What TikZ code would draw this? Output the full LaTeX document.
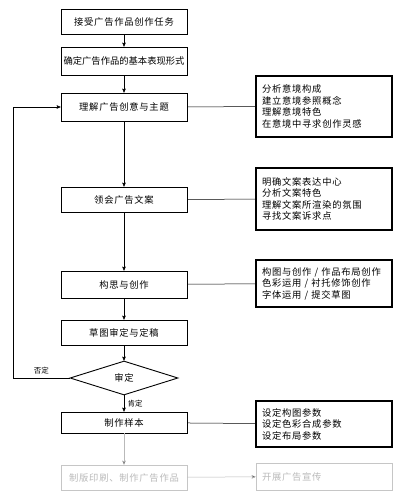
\documentclass[tikz,border=0pt]{standalone}
\usepackage{fontspec}
\newfontfamily\cjk{Noto Sans CJK SC}
\newfontfamily\cjkwide[LetterSpace=8]{Noto Sans CJK SC}
\usepackage{tikz}
\usetikzlibrary{arrows,shapes.geometric}

\begin{document}
\begin{tikzpicture}
[x=1pt,y=-1pt,>=stealth',font=\cjkwide\fontsize{9.3}{11.5}\selectfont,
 stepbox/.style={rectangle,draw=black,line width=0.9pt,minimum width=126pt,minimum height=25pt,inner sep=2pt},
 notebox/.style={rectangle,draw=black,line width=1.1pt,minimum width=136pt,text width=124pt,align=left,inner xsep=6pt,inner ysep=0pt},
 faded/.style={draw=gray!45,text=gray!55},
 link/.style={line width=0.5pt}]
\useasboundingbox (0,0) rectangle (405,500);
            \node[stepbox] (task) at (124,21.5) {接受广告作品创作任务};
            \node[stepbox,minimum height=28pt,font=\cjk\fontsize{9.3}{11.5}\selectfont] (form) at (124,61) {确定广告作品的基本表现形式};
            \node[stepbox,minimum height=28pt] (theme) at (124,107) {理解广告创意与主题};
            \node[stepbox] (copy) at (124,199.5) {领会广告文案};
            \node[stepbox,minimum height=27pt] (idea) at (124,284.5) {构思与创作};
            \node[stepbox] (draft) at (124,332.5) {草图审定与定稿};
            \node[diamond,draw=black,line width=0.9pt,minimum width=108pt,minimum height=34pt,inner sep=0pt] (check) at (124,378) {审定};
            \node[stepbox,minimum height=21pt] (sample) at (124,422.5) {制作样本};
            \node[stepbox,faded] (print) at (124,477.5) {制版印刷、制作广告作品};
            \node[notebox,minimum height=61pt] (ptA) at (324,106.5) {分析意境构成\\建立意境参照概念\\理解意境特色\\在意境中寻求创作灵感};
            \node[notebox,minimum height=62pt] (ptB) at (324,199) {明确文案表达中心\\分析文案特色\\理解文案所渲染的氛围\\寻找文案诉求点};
            \node[notebox,minimum height=47pt] (ptC) at (324,283.5) {构图与创作 / 作品布局创作\\色彩运用 / 衬托修饰创作\\字体运用 / 提交草图};
            \node[notebox,minimum height=46pt] (ptD) at (324,424) {设定构图参数\\设定色彩合成参数\\设定布局参数};
            \node[notebox,faded,line width=0.9pt,minimum height=27pt] (promo) at (324,476.5) {开展广告宣传};
            \coordinate (back) at (13,378);
            \path[->,link] (task) edge (form) (form) edge (theme) (theme) edge (copy) (copy) edge (idea) (idea) edge (draft) (draft) edge (check);
            \draw[->,link] (check) -- node[right,font=\cjk\fontsize{7.5}{9}\selectfont] {肯定} (sample);
            \draw[->,link] (check.west) -- node[above,font=\cjk\fontsize{7.5}{9}\selectfont] {否定} (back) |- (theme.west);
            \path[link] (theme) edge (ptA) (copy) edge (ptB) (idea) edge (ptC) (sample) edge (ptD);
            \path[->,link,draw=gray!55] (sample) edge (print) (print) edge (promo);
\end{tikzpicture}
\end{document}
